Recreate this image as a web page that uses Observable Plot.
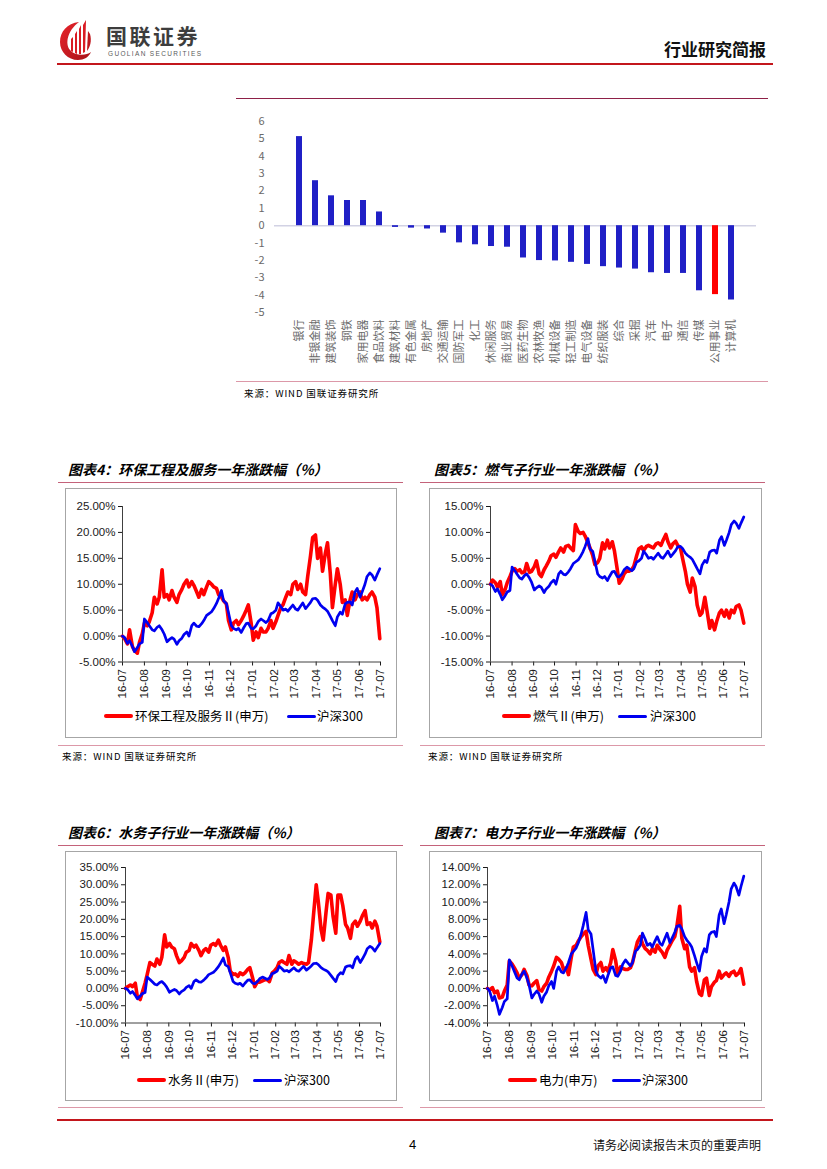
<!DOCTYPE html>
<html><head><meta charset="utf-8">
<script src="https://cdn.jsdelivr.net/npm/d3@7"></script>
<script src="https://cdn.jsdelivr.net/npm/@observablehq/plot@0.6"></script>
<style>
body{margin:0;background:#fff;}
#page{position:relative;width:827px;height:1169px;overflow:hidden;background:#fff;font-family:"Noto Sans CJK SC","Noto Sans",sans-serif;color:#000;}
.t{position:absolute;white-space:nowrap;}
.ln{position:absolute;}
.title{font-size:14px;font-weight:bold;font-style:italic;line-height:16px;}
.src{font-size:9.5px;line-height:12px;letter-spacing:0.9px;}
.leg{font-size:12.5px;line-height:16px;color:#000;}
.box{position:absolute;border:1px solid #a6a6a6;box-sizing:border-box;}
</style></head><body><div id="page"></div>
<script>
// ---------------- data ----------------
const industries = ["银行","非银金融","建筑装饰","钢铁","家用电器","食品饮料","建筑材料","有色金属","房地产","交通运输","国防军工","化工","休闲服务","商业贸易","医药生物","农林牧渔","机械设备","轻工制造","电气设备","纺织服装","综合","采掘","汽车","电子","通信","传媒","公用事业","计算机"];
const industryChange = [5.13,2.59,1.72,1.45,1.45,0.79,-0.10,-0.14,-0.19,-0.43,-0.99,-1.10,-1.20,-1.24,-1.86,-2.01,-2.03,-2.11,-2.23,-2.36,-2.44,-2.50,-2.71,-2.75,-2.75,-3.75,-3.97,-4.28];
const highlightIndustry = "公用事业";
const barTicks = [-5,-4,-3,-2,-1,0,1,2,3,4,5,6];

const dateLabels = ("16-07-01 16-07-04 16-07-08 16-07-11 16-07-15 16-07-18 16-07-22 16-07-25 16-07-29 16-08-01 " +
 "16-08-05 16-08-08 16-08-12 16-08-15 16-08-19 16-08-22 16-08-26 16-08-29 16-09-02 16-09-05 " +
 "16-09-09 16-09-12 16-09-16 16-09-19 16-09-23 16-09-26 16-09-30 16-10-03 16-10-07 16-10-10 " +
 "16-10-14 16-10-17 16-10-21 16-10-24 16-10-28 16-10-31 16-11-04 16-11-07 16-11-11 16-11-14 " +
 "16-11-18 16-11-21 16-11-25 16-11-28 16-12-02 16-12-05 16-12-09 16-12-12 16-12-16 16-12-19 " +
 "16-12-23 16-12-26 16-12-30 17-01-02 17-01-06 17-01-09 17-01-13 17-01-16 17-01-20 17-01-23 " +
 "17-01-27 17-01-30 17-02-03 17-02-06 17-02-10 17-02-13 17-02-17 17-02-20 17-02-24 17-02-27 " +
 "17-03-03 17-03-06 17-03-10 17-03-13 17-03-17 17-03-20 17-03-24 17-03-27 17-03-31 17-04-03 " +
 "17-04-07 17-04-10 17-04-14 17-04-17 17-04-21 17-04-24 17-04-28 17-05-01 17-05-05 17-05-08 " +
 "17-05-12 17-05-15 17-05-19 17-05-22 17-05-26 17-05-29 17-06-02 17-06-05 17-06-09 17-06-12 " +
 "17-06-16 17-06-19 17-06-23 17-06-26 17-06-30").split(" ");

const hs300 = [0,-0.3,-1.4,-0.9,-2.0,-3.0,-2.2,-1.5,-1.2,3.3,
 2.6,2.0,1.2,1.0,1.7,2.0,1.2,0.4,-1.1,-0.7,
 -0.3,-0.6,-1.6,-0.9,-0.4,0.3,0.8,0.0,2.0,2.5,
 1.9,1.8,2.4,3.0,4.0,4.3,4.7,5.3,6.3,7.3,
 8.8,6.8,6.3,4.5,2.0,1.5,1.2,1.5,0.7,1.5,
 2.4,2.5,1.5,1.4,2.0,2.8,3.3,3.0,2.6,3.0,
 4.3,4.5,5.0,6.4,5.7,5.0,5.2,4.8,5.5,6.0,
 5.2,5.0,5.8,6.4,5.3,5.8,6.5,7.2,7.3,6.9,
 6.0,5.6,5.2,4.8,3.8,3.0,2.0,3.7,4.6,4.2,
 6.2,6.5,6.6,6.0,8.5,9.2,7.5,8.5,10.0,11.5,
 12.2,11.8,10.8,11.8,13.0];

const envRed = [0,-0.5,-1.5,1.2,-2.0,-2.8,-3.3,-1.2,0.5,2.5,
 2.0,2.8,4.5,7.5,6.2,7.5,12.8,7.5,8.0,7.0,
 8.8,7.5,6.5,8.0,9.0,10.0,10.8,9.5,10.5,9.8,
 8.5,7.5,9.0,8.0,9.5,10.5,10.0,9.5,9.2,8.0,
 7.5,6.8,6.2,3.0,1.2,2.5,3.0,2.2,3.0,3.8,
 5.0,6.0,2.5,-0.8,0.8,-0.3,1.5,0.8,0.8,1.5,
 3.0,1.5,2.8,4.0,5.5,6.0,7.5,8.5,8.0,10.0,
 10.5,9.0,10.0,8.5,8.0,11.5,15.5,19.0,19.5,15.0,
 17.0,12.5,16.0,18.0,12.0,5.5,10.0,13.0,10.0,6.5,
 7.0,4.0,7.0,8.5,7.0,8.0,8.5,7.0,7.5,7.0,
 8.0,8.5,7.5,5.5,-0.5];

const gasRed = [0,0.8,0.3,-0.5,0.5,-2.0,-1.0,0.3,1.5,2.5,
 3.0,2.5,2.8,2.2,2.4,4.0,2.3,2.5,3.4,4.5,
 2.0,1.5,2.8,3.5,4.5,5.5,5.8,5.2,6.3,7.0,
 6.2,7.3,7.5,7.0,6.5,11.5,10.2,9.8,10.0,9.3,
 8.0,7.0,5.5,3.8,4.2,5.0,8.0,6.8,8.5,7.0,
 8.2,6.5,3.0,0.2,1.0,2.0,2.6,2.5,2.8,3.5,
 5.5,6.8,7.2,6.5,7.3,7.5,7.2,7.0,7.8,8.0,
 7.5,8.5,9.6,8.2,7.0,7.8,8.3,7.5,7.0,5.0,
 2.5,0.0,-1.5,1.2,-0.5,-4.0,-6.0,-5.5,-2.5,-5.0,
 -8.5,-7.0,-8.8,-7.2,-5.5,-5.0,-6.2,-5.0,-6.5,-5.0,
 -5.5,-4.3,-4.0,-5.0,-7.5];

const waterRed = [0,0.5,1.0,0.5,1.5,-2.5,-3.2,-1.2,1.5,4.0,
 7.5,7.0,6.5,8.5,7.0,9.0,15.5,12.0,13.0,12.0,
 11.5,9.5,7.5,8.0,9.0,10.5,11.0,13.0,12.0,12.5,
 11.0,9.5,11.0,11.5,10.5,12.5,13.0,12.5,14.0,12.5,
 11.0,12.0,9.0,5.0,4.0,4.2,3.5,4.5,4.0,4.5,
 5.5,6.0,3.0,0.5,2.0,1.8,2.2,2.5,2.5,2.0,
 4.5,5.0,6.0,7.5,8.0,7.5,7.0,9.5,7.0,8.0,
 7.5,7.0,7.5,7.2,7.0,7.5,14.0,21.0,30.0,25.0,
 17.0,14.0,22.0,27.5,27.0,21.0,16.0,27.0,27.0,24.0,
 18.5,17.5,14.5,18.5,19.5,18.0,19.5,21.0,22.5,18.5,
 19.0,17.5,19.5,18.0,13.5];

const powerRed = [0,-0.2,0.1,-0.5,-0.3,-1.1,-1.0,-0.3,0.4,3.2,
 2.8,2.4,1.8,1.2,1.6,2.2,1.5,0.4,0.3,0.6,
 0.9,-0.1,-0.3,0.2,0.6,1.3,2.0,2.6,3.6,3.4,
 3.0,2.2,2.4,1.6,3.6,4.8,5.0,5.5,6.0,6.3,
 6.6,5.0,3.4,2.2,1.6,2.6,3.0,2.0,2.4,2.0,
 3.0,4.5,3.2,1.6,2.5,2.3,2.2,2.2,2.4,3.0,
 4.4,5.4,6.0,5.2,4.6,4.4,4.0,4.6,4.2,5.0,
 4.5,4.2,3.6,4.4,5.0,5.5,6.0,7.2,9.5,5.8,
 4.6,5.0,2.5,2.0,2.4,0.8,-0.6,-0.8,1.0,1.2,
 -0.8,0.2,0.7,0.9,2.0,1.2,1.6,1.8,1.4,1.8,
 2.0,1.5,1.8,2.3,0.5];

const monthTicks = ["16-07","16-08","16-09","16-10","16-11","16-12","17-01","17-02","17-03","17-04","17-05","17-06","17-07"];
const yTicks4 = [-5,0,5,10,15,20,25];
const yTicks5 = [-15,-10,-5,0,5,10,15];
const yTicks6 = [-10,-5,0,5,10,15,20,25,30,35];
const yTicks7 = [-4,-2,0,2,4,6,8,10,12,14];
const hsName = "沪深300";

// ---------------- helpers ----------------
const page = document.getElementById("page");
function text(str, cls, left, top, extra) {
  const d = document.createElement("div");
  d.className = "t " + cls; d.textContent = str;
  d.style.left = left + "px"; d.style.top = top + "px";
  if (extra) Object.assign(d.style, extra);
  page.appendChild(d); return d;
}
function line(left, top, width, height, color, extra) {
  const d = document.createElement("div");
  d.className = "ln";
  Object.assign(d.style, {left: left + "px", top: top + "px", width: width + "px", height: height + "px", background: color});
  if (extra) Object.assign(d.style, extra);
  page.appendChild(d); return d;
}
function place(svg, left, top) {
  svg.style.position = "absolute";
  svg.style.left = left + "px";
  svg.style.top = top + "px";
  page.appendChild(svg);
}

// ---------------- header ----------------
const logo = document.createElementNS("http://www.w3.org/2000/svg", "svg");
logo.setAttribute("width", "34"); logo.setAttribute("height", "42");
logo.innerHTML = `
<defs><linearGradient id="lg" x1="0" y1="0" x2="1" y2="1"><stop offset="0" stop-color="#e8232a"/><stop offset="1" stop-color="#a8141a"/></linearGradient></defs>
<path d="M20,3 C8,4 1,13 1,23 C1,33 9,41 19,41 C25,41 30,38 32,33 C27,37 16,37 11,31 C6,25 8,12 20,3 Z" fill="url(#lg)"/>
<path d="M12,32 L12,20 L14,18 L14,33 Z" fill="#d91c24"/>
<path d="M16,34 L16,15 L18,12 L18,35 Z" fill="#d91c24"/>
<path d="M20,35 L20,10 L22,6 L22,35 Z" fill="#d91c24"/>
<path d="M24,34 L24,6 L27,1 L26,33 Z" fill="#d91c24"/>
<path d="M28,32 C31,28 33,22 31,15 L29,12 Z" fill="#c0161d"/>`;
place(logo, 59, 19);
text("国联证券", "", 106, 23.8, {fontSize: "21px", fontWeight: "bold", color: "#3d3d3d", lineHeight: "22px", letterSpacing: "2.5px"});
text("GUOLIAN SECURITIES", "", 108, 50.2, {fontSize: "6.5px", color: "#5a5a5a", lineHeight: "8px", letterSpacing: "1.35px", fontFamily: "'Liberation Sans',Arial,sans-serif"});
text("行业研究简报", "", 664, 39, {fontSize: "17px", fontWeight: "bold", lineHeight: "20px", color: "#111"});
line(57, 63, 716, 2, "#c3161c");

// ---------------- bar chart ----------------
line(236, 98, 532, 1, "#8e2047");
const barData = industries.map((name, i) => ({name, value: industryChange[i]}));
const bar = Plot.plot({
  width: 532, height: 280,
  marginTop: 21, marginBottom: 68, marginLeft: 38, marginRight: 12,
  style: {background: "transparent", color: "#6a6a6a", fontSize: "11px", fontFamily: "'Noto Sans CJK SC',sans-serif", overflow: "visible"},
  x: {domain: industries, padding: 0.64, label: null, tickSize: 0, tickPadding: 7, tickRotate: -90},
  y: {domain: [-5, 6], ticks: barTicks, tickFormat: d => String(d), label: null, tickSize: 0, tickPadding: 10},
  marks: [
    Plot.ruleY([0], {stroke: "#d2d2e4", strokeWidth: 1.5}),
    Plot.barY(barData, {x: "name", y: "value", fill: d => d.name === highlightIndustry ? "#ff0000" : "#2020c6"})
  ]
});
place(bar, 236, 100);
line(236, 381, 532, 1, "#dc98a8");
text("来源：WIND 国联证券研究所", "src", 244, 387);

// ---------------- line charts ----------------
const parse = d3.utcParse("%y-%m-%d");
const dates = dateLabels.map(parse);
const tickDates = monthTicks.map(m => parse(m + "-01"));
const fmtMonth = d3.utcFormat("%y-%m");

function lineChart(cfg) {
  const redData = dates.map((date, i) => ({date, v: cfg.red[i]}));
  const blueData = dates.map((date, i) => ({date, v: hs300[i]}));
  const b = document.createElement("div");
  b.className = "box";
  Object.assign(b.style, {left: (cfg.left - 1) + "px", top: (cfg.boxTop) + "px", width: (cfg.width + 2) + "px", height: cfg.boxH + "px"});
  page.appendChild(b);
  const chart = Plot.plot({
    width: cfg.width, height: 215,
    marginLeft: cfg.ml, marginRight: cfg.mr, marginTop: cfg.mt, marginBottom: 215 - cfg.mt - 155.5,
    style: {background: "transparent", color: "#1a1a1a", fontSize: "11.5px", fontFamily: "'Liberation Sans',Arial,sans-serif", overflow: "visible"},
    x: {type: "utc", domain: [tickDates[0], tickDates[tickDates.length - 1]], ticks: tickDates, tickFormat: fmtMonth, tickRotate: -90, tickSize: 4, tickPadding: 3, label: null},
    y: {domain: [cfg.yTicks[0], cfg.yTicks[cfg.yTicks.length - 1]], ticks: cfg.yTicks, tickFormat: d => d.toFixed(2) + "%", tickSize: 4, tickPadding: 3, label: null},
    marks: [
      Plot.ruleX([tickDates[0]], {stroke: "#404040", strokeWidth: 1}),
      Plot.ruleY([cfg.yTicks[0]], {stroke: "#404040", strokeWidth: 1}),
      Plot.lineY(redData, {x: "date", y: "v", stroke: "#ff0000", strokeWidth: 3.6, strokeLinejoin: "round"}),
      Plot.lineY(blueData, {x: "date", y: "v", stroke: "#0000f0", strokeWidth: 2.7, strokeLinejoin: "round"})
    ]
  });
  place(chart, cfg.left, cfg.top);
  text(cfg.title, "title", cfg.titleX, cfg.titleY);
  line(cfg.ruleX, cfg.ruleTop, 345, 1, "#c4627a");
  line(cfg.ruleX, cfg.ruleBottom, 345, 1, "#dc98a8");
  if (cfg.source) text("来源：WIND 国联证券研究所", "src", cfg.titleX - 6, cfg.ruleBottom + 5);
  line(cfg.leg[0], cfg.legY - 2, 29, 4, "#ff0000", {borderRadius: "2px"});
  text(cfg.legendName, "leg", cfg.leg[1], cfg.legY - 8);
  line(cfg.leg[2], cfg.legY - 1.5, 29, 3, "#0000f0", {borderRadius: "1.5px"});
  text(hsName, "leg", cfg.leg[3], cfg.legY - 8);
}

lineChart({title: "图表4：环保工程及服务一年涨跌幅（%）", legendName: "环保工程及服务Ⅱ(申万)", red: envRed, yTicks: yTicks4,
  left: 66, top: 489, width: 330, ml: 56, mr: 16, mt: 17, boxTop: 488, boxH: 250,
  titleX: 68, titleY: 461, ruleX: 58, ruleTop: 482, ruleBottom: 745, source: true,
  leg: [104, 135, 287, 317], legY: 716});
lineChart({title: "图表5：燃气子行业一年涨跌幅（%）", legendName: "燃气Ⅱ(申万)", red: gasRed, yTicks: yTicks5,
  left: 430, top: 489, width: 331, ml: 60, mr: 17, mt: 17, boxTop: 488, boxH: 250,
  titleX: 434, titleY: 461, ruleX: 420, ruleTop: 482, ruleBottom: 745, source: true,
  leg: [502, 533, 618, 650], legY: 716});
lineChart({title: "图表6：水务子行业一年涨跌幅（%）", legendName: "水务Ⅱ(申万)", red: waterRed, yTicks: yTicks6,
  left: 66, top: 852, width: 330, ml: 59, mr: 16, mt: 15, boxTop: 851, boxH: 250,
  titleX: 68, titleY: 824, ruleX: 58, ruleTop: 845, ruleBottom: 1107, source: false,
  leg: [137, 168, 253, 284], legY: 1080});
lineChart({title: "图表7：电力子行业一年涨跌幅（%）", legendName: "电力(申万)", red: powerRed, yTicks: yTicks7,
  left: 430, top: 852, width: 331, ml: 57, mr: 17, mt: 15, boxTop: 851, boxH: 250,
  titleX: 434, titleY: 824, ruleX: 420, ruleTop: 845, ruleBottom: 1107, source: false,
  leg: [508, 539, 612, 642], legY: 1080});

// ---------------- footer ----------------
line(57, 1119, 716, 2, "#c3161c");
text("4", "", 409, 1137, {fontSize: "13px", lineHeight: "16px", fontFamily: "'Liberation Sans',Arial,sans-serif"});
text("请务必阅读报告末页的重要声明", "", 593, 1138, {fontSize: "12px", lineHeight: "14px", color: "#111"});
</script></body></html>
